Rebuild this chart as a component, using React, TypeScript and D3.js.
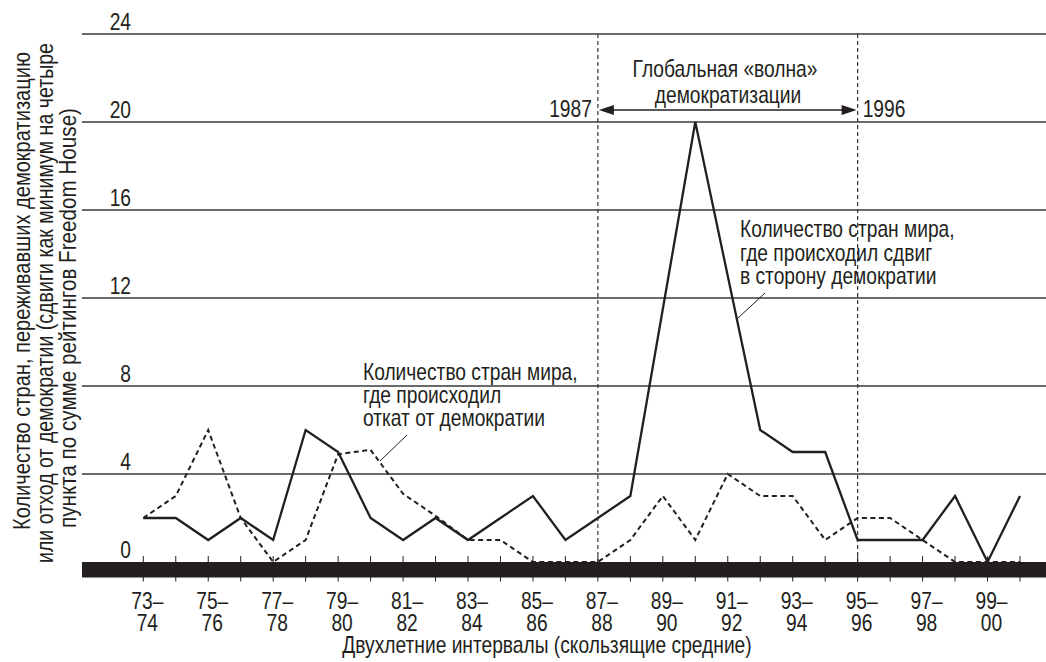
import React from 'react';
import * as d3 from 'd3';

// two-year moving windows, one point per year
const periods = [
  '73–74', '74–75', '75–76', '76–77', '77–78', '78–79', '79–80', '80–81',
  '81–82', '82–83', '83–84', '84–85', '85–86', '86–87', '87–88', '88–89',
  '89–90', '90–91', '91–92', '92–93', '93–94', '94–95', '95–96', '96–97',
  '97–98', '98–99', '99–00', '00–01',
];

// countries with a shift towards democracy
const shiftToDemocracy = [
  2, 2, 1, 2, 1, 6, 5, 2, 1, 2, 1, 2, 3, 1, 2, 3, 11.5, 20, 13, 6, 5, 5, 1, 1, 1, 3, 0, 3,
];

// countries with a retreat from democracy
const retreatFromDemocracy = [
  2, 3, 6, 2, 0, 1, 4.9, 5.1, 3.1, 2.1, 1, 1, 0, 0, 0, 1, 3, 1, 4, 3, 3, 1, 2, 2, 1, 0, 0, 0,
];

const yTicks = [0, 4, 8, 12, 16, 20, 24];
const waveStart = '87–88';
const waveEnd = '95–96';

const W = 1046;
const H = 662;
const INK = '#231f20';
const FONT = '"Liberation Sans", Arial, sans-serif';
const NARROW = 0.8; // no condensed face installed, so squeeze the regular one

type TProps = {
  x: number;
  y: number;
  anchor?: 'start' | 'middle' | 'end';
  rotate?: boolean;
  len?: number;
  children: React.ReactNode;
};

// condensed-looking text
const T: React.FC<TProps> = ({ x, y, anchor = 'start', rotate, len, children }) => (
  <text
    transform={`translate(${x},${y})${rotate ? ' rotate(-90)' : ''}${len ? '' : ` scale(${NARROW},1)`}`}
    textAnchor={anchor}
    fontFamily={FONT}
    fontSize={24}
    fill={INK}
    textLength={len}
    lengthAdjust={len ? 'spacingAndGlyphs' : undefined}
  >
    {children}
  </text>
);

const App: React.FC = () => {
  const x = d3.scalePoint<string>().domain(periods).range([143.3, 1020]);
  const y = d3.scaleLinear().domain([0, 24]).range([562, 34]);

  const line = d3
    .line<number>()
    .x((d, i) => x(periods[i]) as number)
    .y((d) => y(d));

  const gridLeft = 82;
  const x0 = x(waveStart) as number;
  const x1 = x(waveEnd) as number;
  const arrowY = 110;

  return (
    <svg
      width={W}
      height={H}
      style={{ position: 'absolute', left: 0, top: 0, background: '#fff' }}
    >
      {/* horizontal grid */}
      {yTicks
        .filter((t) => t > 0)
        .map((t) => (
          <line
            key={t}
            x1={gridLeft}
            x2={W}
            y1={y(t)}
            y2={y(t)}
            stroke="#3a3a3a"
            strokeWidth={1.4}
          />
        ))}
      {yTicks.map((t) => (
        <T key={'l' + t} x={131} y={y(t) - 4} anchor="end">
          {t}
        </T>
      ))}

      {/* wave boundaries */}
      {[x0, x1].map((xv, i) => (
        <line
          key={'v' + i}
          x1={xv}
          x2={xv}
          y1={y(24)}
          y2={y(0)}
          stroke="#333"
          strokeWidth={1.2}
          strokeDasharray="4 3"
        />
      ))}

      {/* base bar and ticks */}
      <rect x={gridLeft} y={y(0)} width={W - gridLeft} height={15.5} fill={INK} />
      {periods.map((p) => (
        <line
          key={'t' + p}
          x1={x(p)}
          x2={x(p)}
          y1={556}
          y2={581.5}
          stroke={INK}
          strokeWidth={1}
        />
      ))}

      {/* series */}
      <path
        d={line(retreatFromDemocracy) || ''}
        fill="none"
        stroke={INK}
        strokeWidth={2}
        strokeDasharray="5 3.5"
      />
      <path
        d={line(shiftToDemocracy) || ''}
        fill="none"
        stroke={INK}
        strokeWidth={2.3}
      />

      {/* x tick labels */}
      {periods.map((p, i) => {
        if (i % 2 !== 0) return null;
        const [a, b] = p.split('–');
        const cx = (x(p) as number) + 4;
        return (
          <g key={'xl' + p}>
            <T x={cx} y={609} anchor="middle">
              {a}–
            </T>
            <T x={cx} y={631} anchor="middle">
              {b}
            </T>
          </g>
        );
      })}
      <T x={547} y={653} anchor="middle">
        Двухлетние интервалы (скользящие средние)
      </T>

      {/* y axis title */}
      <T x={30} y={530} rotate len={478}>
        Количество стран, переживавших демократизацию
      </T>
      <T x={53} y={563} rotate len={520}>
        или отход от демократии (сдвиги как минимум на четыре
      </T>
      <T x={76} y={528} rotate len={420}>
        пункта по сумме рейтингов Freedom House)
      </T>

      {/* wave annotation */}
      <line x1={x0 + 12} x2={x1 - 12} y1={arrowY} y2={arrowY} stroke={INK} strokeWidth={1.3} />
      <path
        d={`M${x0 + 1},${arrowY} L${x0 + 16},${arrowY - 5} L${x0 + 16},${arrowY + 5} Z`}
        fill={INK}
      />
      <path
        d={`M${x1 - 1},${arrowY} L${x1 - 16},${arrowY - 5} L${x1 - 16},${arrowY + 5} Z`}
        fill={INK}
      />
      <T x={x0 - 6} y={117} anchor="end">
        1987
      </T>
      <T x={x1 + 5} y={117}>
        1996
      </T>
      <T x={725} y={77} anchor="middle">
        Глобальная «волна»
      </T>
      <T x={728} y={103} anchor="middle">
        демократизации
      </T>

      {/* series annotations */}
      <T x={740} y={237}>Количество стран мира,</T>
      <T x={740} y={261}>где происходил сдвиг</T>
      <T x={740} y={284}>в сторону демократии</T>
      <line x1={765} y1={293} x2={738} y2={318} stroke={INK} strokeWidth={1} />

      <T x={363} y={380}>Количество стран мира,</T>
      <T x={363} y={403}>где происходил</T>
      <T x={363} y={426}>откат от демократии</T>
      <line x1={407} y1={435} x2={380} y2={461} stroke={INK} strokeWidth={1} />
    </svg>
  );
};

export default App;
